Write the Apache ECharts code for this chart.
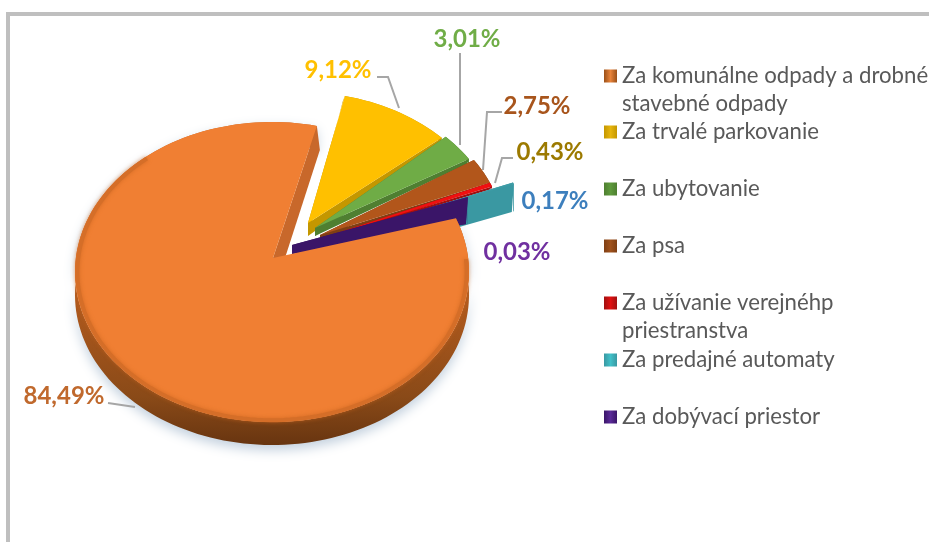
<!DOCTYPE html>
<html><head><meta charset="utf-8">
<style>html,body{margin:0;padding:0;background:#fff}#c{width:929px;height:542px}</style>
<script src="https://cdn.jsdelivr.net/npm/echarts@6/dist/echarts.min.js"></script>
</head><body><div id="c"></div>
<script>
// ---- data ----
const categories = [
  'Za komunálne odpady a drobné\nstavebné odpady',
  'Za trvalé parkovanie',
  'Za ubytovanie',
  'Za psa',
  'Za užívanie verejnéhp\npriestranstva',
  'Za predajné automaty',
  'Za dobývací priestor'
];
const shares = [84.49, 9.12, 3.01, 2.75, 0.43, 0.17, 0.03];

// ---- styles and layout ----
const faceColors  = ['#F07F33', '#FFC000', '#6FAC46', '#B2561B', '#F01010', '#3E9CA6', '#42197A'];
const sideColors  = ['#9A5018', '#C49700', '#4F7F31', '#7F3F14', '#A01010', '#3A98A2', '#3A1568'];
const labelColors = ['#C0692D', '#FFC000', '#70AD47', '#A8551C', '#9C7A00', '#3D7FBD', '#7030A0'];
const iconColors  = ['#E8833A', '#E7B50C', '#5E9A3C', '#A0521C', '#E01010', '#40C0C8', '#5A2A98'];
const firstAngle = 69, RX = 197, RY = 150;
const centers = [[272,272],[300,242],[304,241],[309,242],[309,242],[330,238],[284,251]];
const apexes  = [[273,258],[308,223],[315,228],[320,235],[322,238],[330,238],[292,245]];
const depths  = [[0,23],[13,5],[8,5],[6,4],[3,3],[26,28],[9,27]];
const labelPos = [[64,396],[338,70],[467,39],[537,106],[550,152],[555,201],[517,252]];
const leaders = [
  [[108,403],[135,407]],
  [[377,77],[388,77],[399,108]],
  [[460,53],[460,145]],
  [[502,112],[487,112],[483,170]],
  [[513,158],[502,158],[495,183]],
  null, null
];
const legendTops = [34, 118, 175, 232, 261, 346, 403];
const zOrder = [7, 1, 2, 3, 4, 5, 6];
const FONT = 'Lato, "Open Sans", sans-serif';

const total = shares.reduce((a, b) => a + b, 0);
const startDeg = shares.map((_, i) => firstAngle + shares.slice(0, i).reduce((a, b) => a + b, 0) / total * 360);

function rim(deg, c, f) {
  const t = deg * Math.PI / 180, k = f === undefined ? 1 : f;
  return [c[0] + RX * k * Math.sin(t), c[1] - RY * k * Math.cos(t)];
}
function arcPoints(a0, a1, c, f) {
  const n = Math.max(2, Math.ceil((a1 - a0) / 2)), out = [];
  for (let i = 0; i <= n; i++) out.push(rim(a0 + (a1 - a0) * i / n, c, f));
  return out;
}
function makeRender(i) {
  return function (params, api) {
    const value = api.value(0);
    const a0 = startDeg[i], a1 = a0 + value / total * 360;
    const c = centers[i], ap = apexes[i], d = depths[i];
    const arc = arcPoints(a0, a1, c);
    const children = [];
    const shifted = arc.map(p => [p[0], p[1] + d[1]]).reverse();
    const sideFill = i === 0
      ? new echarts.graphic.LinearGradient(0, 0, 0, 1, [
          { offset: 0, color: '#C86A28' }, { offset: 0.55, color: '#B05A1E' },
          { offset: 0.85, color: '#8A4A18' }, { offset: 1, color: '#683510' }])
      : sideColors[i];
    // side wall along the rim
    const wall = { type: 'polygon', shape: { points: arc.concat(shifted) }, style: { fill: sideFill } };
    if (i === 0) { wall.style.shadowColor = 'rgba(120,150,180,0.45)'; wall.style.shadowBlur = 12; wall.style.shadowOffsetY = 5; }
    children.push(wall);
    // radial cut walls
    const tipEnd = arc[arc.length - 1], tipStart = arc[0];
    if (i === 0) {
      children.push({ type: 'polygon', shape: { points: [ap, tipEnd, [tipEnd[0] + 3, tipEnd[1] + 24], [ap[0] + 12, ap[1]]] }, style: { fill: '#C8682B' } });
    } else {
      children.push({ type: 'polygon', shape: { points: [ap, tipEnd, [tipEnd[0] - 2, tipEnd[1] + d[1]], [ap[0], ap[1] + d[0]]] }, style: { fill: sideColors[i] } });
      children.push({ type: 'polygon', shape: { points: [ap, tipStart, [tipStart[0] - 2, tipStart[1] + d[1]], [ap[0], ap[1] + d[0]]] }, style: { fill: sideColors[i] } });
    }
    // top face
    children.push({ type: 'polygon', shape: { points: [ap].concat(arc) }, style: { fill: faceColors[i] } });
    if (i === 0) {
      children.push({ type: 'polyline', shape: { points: arcPoints(85, 320, c, 0.988) }, style: { stroke: '#D56E28', lineWidth: 4, fill: null, shadowColor: 'rgba(200,100,30,0.7)', shadowBlur: 4 } });
    }
    // leader and label
    if (leaders[i]) children.push({ type: 'polyline', shape: { points: leaders[i] }, style: { stroke: '#A6A6A6', lineWidth: 2, fill: null } });
    children.push({ type: 'text', style: {
      text: value.toFixed(2).replace('.', ',') + '%', x: labelPos[i][0], y: labelPos[i][1],
      fill: labelColors[i], fontFamily: FONT, fontWeight: 'bold', fontSize: 24, align: 'center', verticalAlign: 'middle' } });
    return { type: 'group', children };
  };
}
const chart = echarts.init(document.getElementById('c'), null, { renderer: 'canvas' });
chart.setOption({
  animation: false,
  backgroundColor: '#fff',
  graphic: [
    { type: 'rect', shape: { x: 6, y: 12, width: 923, height: 4 }, style: { fill: '#BFBFBF' }, silent: true },
    { type: 'rect', shape: { x: 6, y: 12, width: 4, height: 530 }, style: { fill: '#BFBFBF' }, silent: true }
  ],
  legend: categories.map((name, i) => ({
    data: [{ name, itemStyle: { color: new echarts.graphic.LinearGradient(0, 0, 1, 0, [
      { offset: 0, color: sideColors[i] }, { offset: 0.5, color: iconColors[i] }, { offset: 1, color: sideColors[i] }]) } }],
    left: 604, top: legendTops[i], padding: 0, selectedMode: false, icon: 'rect',
    itemWidth: 13, itemHeight: 13,
    formatter: n => n.includes('\n') ? ' \n' + n : n,
    textStyle: { color: '#595959', fontFamily: FONT, fontSize: 22.2, lineHeight: 28 }
  })),
  series: categories.map((name, i) => ({
    type: 'custom', name, coordinateSystem: 'none', z: zOrder[i], silent: true,
    itemStyle: { color: faceColors[i] },
    data: [[shares[i]]], renderItem: makeRender(i)
  }))
});
</script></body></html>
